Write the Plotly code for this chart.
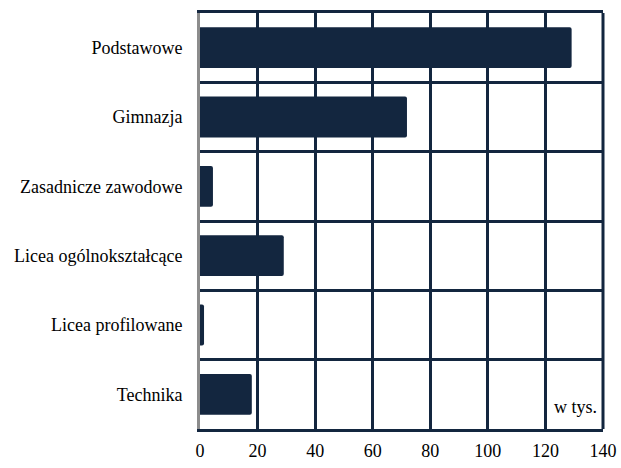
import plotly.graph_objects as go

categories = ["Podstawowe", "Gimnazja", "Zasadnicze zawodowe",
              "Licea ogólnokształcące", "Licea profilowane", "Technika"]
values = [129.1, 71.9, 4.5, 29.1, 1.4, 18.0]
x_ticks = [0, 20, 40, 60, 80, 100, 120, 140]

NAVY = "#13263f"
FONT = dict(family="Times New Roman, Times, Liberation Serif, Nimbus Roman, DejaVu Serif, serif",
            size=18, color="#000000")

fig = go.Figure(go.Bar(
    x=values, y=categories, orientation="h",
    marker=dict(color=NAVY, line=dict(width=0), cornerradius=2),
    width=0.59,
))

fig.update_layout(
    width=621, height=468,
    margin=dict(l=200, r=18, t=13, b=39, autoexpand=False),
    paper_bgcolor="white", plot_bgcolor="white",
    showlegend=False,
    font=FONT,
    xaxis=dict(
        range=[0, 140], tickvals=x_ticks, showgrid=True, gridcolor=NAVY, gridwidth=3,
        zeroline=False, showline=True, linecolor=NAVY, linewidth=3, mirror=True,
        ticks="", ticklabelstandoff=3, tickfont=FONT,
        automargin=False,
    ),
    yaxis=dict(
        type="category", categoryorder="array", categoryarray=categories,
        autorange="reversed", tickson="boundaries", showgrid=True, gridcolor=NAVY,
        gridwidth=3, showline=True, linecolor="#8c8c8c", linewidth=3, mirror=False,
        ticks="", ticklabelstandoff=11, tickfont=FONT,
        automargin=False,
    ),
    shapes=[dict(type="line", xref="paper", yref="paper", x0=1, x1=1, y0=0, y1=1,
                 line=dict(color=NAVY, width=3), layer="above")],
    annotations=[dict(text="w tys.", xref="paper", yref="paper", x=0.99, y=0.025,
                      xanchor="right", yanchor="bottom", showarrow=False, font=FONT)],
)

fig.write_html("out.html", config={"displayModeBar": False},
               post_script="document.body.style.margin='0';")
